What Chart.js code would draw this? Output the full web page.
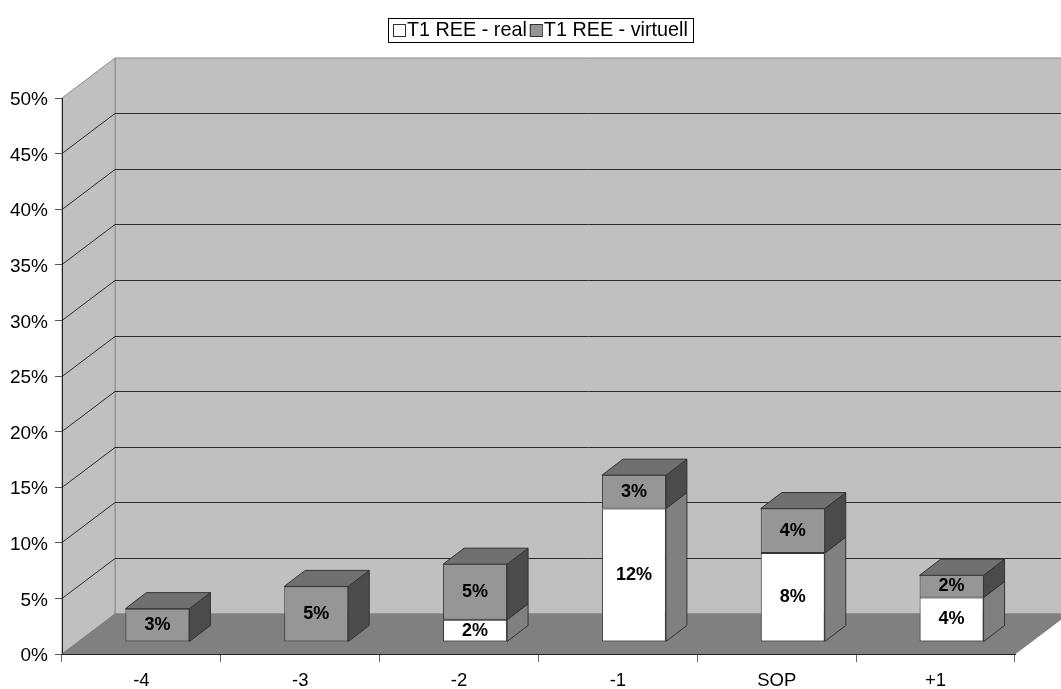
<!DOCTYPE html>
<html>
<head>
<meta charset="utf-8">
<title>T1 REE</title>
<style>
  html, body { margin: 0; padding: 0; background: #fff; }
  canvas { display: block; }
</style>
<script src="https://cdn.jsdelivr.net/npm/chart.js@4/dist/chart.umd.min.js"></script>
</head>
<body>
<canvas id="reeChart" width="1061" height="689"></canvas>
<script>
const categories = ['-4', '-3', '-2', '-1', 'SOP', '+1'];
const realValues = [null, null, 2, 12, 8, 4];
const virtualValues = [3, 5, 5, 3, 4, 2];
const seriesNames = ['T1 REE - real', 'T1 REE - virtuell'];

const FONT = '"Liberation Sans", Arial, sans-serif';
const WALL = '#c0c0c0';
const FLOOR = '#808080';
const EDGE = '#333333';

// depth of the whole plot box, and where the columns sit inside it
const DEPTH_X = 53, DEPTH_Y = 40;
const BAR_SHIFT_X = 16, BAR_SHIFT_Y = 12;
const BAR_DEPTH_X = 21, BAR_DEPTH_Y = 16;

function poly(ctx, pts, fill, stroke) {
  ctx.beginPath();
  pts.forEach((p, i) => (i ? ctx.lineTo(p[0], p[1]) : ctx.moveTo(p[0], p[1])));
  ctx.closePath();
  if (fill) { ctx.fillStyle = fill; ctx.fill(); }
  if (stroke) { ctx.strokeStyle = stroke; ctx.lineWidth = 1; ctx.stroke(); }
}

// back wall, side wall, floor and the gridlines that run across them
const box3d = {
  id: 'box3d',
  beforeDraw(chart) {
    const { ctx, chartArea: a, scales } = chart;
    const dx = DEPTH_X, dy = DEPTH_Y;
    ctx.save();
    poly(ctx, [[a.left + dx, a.top - dy], [a.right + dx, a.top - dy], [a.right + dx, a.bottom - dy], [a.left + dx, a.bottom - dy]], WALL, '#8c8c8c');
    poly(ctx, [[a.left, a.top], [a.left + dx, a.top - dy], [a.left + dx, a.bottom - dy], [a.left, a.bottom]], WALL, '#8c8c8c');
    poly(ctx, [[a.left, a.bottom], [a.left + dx, a.bottom - dy], [a.right + dx, a.bottom - dy], [a.right, a.bottom]], FLOOR, '#808080');
    scales.y.ticks.forEach((t) => {
      if (t.value === 0 || t.value === 50) return;
      const y = Math.floor(scales.y.getPixelForValue(t.value)) + 0.5;
      ctx.beginPath();
      ctx.moveTo(a.left, y);
      ctx.lineTo(a.left + dx, y - dy);
      ctx.lineTo(a.right + dx, y - dy);
      ctx.strokeStyle = '#2a2a2a';
      ctx.lineWidth = 1;
      ctx.stroke();
    });
    ctx.restore();
  }
};

// columns: the library draws the front faces, moved back into the box;
// top and side faces and the value labels are added from the same elements
const columns3d = {
  id: 'columns3d',
  beforeDatasetsDraw(chart) {
    chart.ctx.save();
    chart.ctx.translate(BAR_SHIFT_X, -BAR_SHIFT_Y);
  },
  afterDatasetsDraw(chart) {
    const ctx = chart.ctx;
    ctx.restore();
    const sideColors = ['#808080', '#4b4b4b'];
    const seriesData = [realValues, virtualValues];
    ctx.save();
    chart.data.datasets.forEach((ds, di) => {
      chart.getDatasetMeta(di).data.forEach((bar, i) => {
        if (seriesData[di][i] === null) return;
        const r = bar.x + bar.width / 2 + BAR_SHIFT_X;
        const l = bar.x - bar.width / 2 + BAR_SHIFT_X;
        const t = bar.y - BAR_SHIFT_Y;
        const b = bar.base - BAR_SHIFT_Y;
        poly(ctx, [[r, t], [r + BAR_DEPTH_X, t - BAR_DEPTH_Y], [r + BAR_DEPTH_X, b - BAR_DEPTH_Y], [r, b]], sideColors[di], EDGE);
        // every column ends in the upper series, so only that one shows a lid
        if (di === 1) {
          poly(ctx, [[l, t], [l + BAR_DEPTH_X, t - BAR_DEPTH_Y], [r + BAR_DEPTH_X, t - BAR_DEPTH_Y], [r, t]], '#707070', EDGE);
        }
      });
    });
    // labels go on last so no face covers them
    ctx.fillStyle = '#000';
    ctx.font = 'bold 18px ' + FONT;
    ctx.textAlign = 'center';
    ctx.textBaseline = 'middle';
    chart.data.datasets.forEach((ds, di) => {
      chart.getDatasetMeta(di).data.forEach((bar, i) => {
        const v = seriesData[di][i];
        if (v === null) return;
        const cy = (bar.y + bar.base) / 2 - BAR_SHIFT_Y;
        ctx.fillText(v + '%', bar.x + BAR_SHIFT_X, cy);
      });
    });
    ctx.restore();
  }
};

// boxed legend above the plot
const boxedLegend = {
  id: 'boxedLegend',
  afterDraw(chart) {
    const ctx = chart.ctx;
    const left = 388, top = 18, width = 305, height = 24;
    const swatch = 12;
    ctx.save();
    ctx.fillStyle = '#fff';
    ctx.fillRect(left, top, width, height);
    ctx.strokeStyle = '#000';
    ctx.lineWidth = 1;
    ctx.strokeRect(left + 0.5, top + 0.5, width, height);
    ctx.font = '19.8px ' + FONT;
    ctx.textBaseline = 'middle';
    ctx.textAlign = 'left';
    let x = left + 5;
    chart.data.datasets.forEach((ds) => {
      const sy = top + Math.round((height - swatch) / 2);
      ctx.fillStyle = ds.backgroundColor;
      ctx.fillRect(x, sy, swatch, swatch);
      ctx.strokeStyle = EDGE;
      ctx.strokeRect(x + 0.5, sy + 0.5, swatch, swatch);
      x += swatch + 2;
      ctx.fillStyle = '#000';
      ctx.fillText(ds.label, x, top + height / 2 + 1);
      x += ctx.measureText(ds.label).width + 3;
    });
    ctx.restore();
  }
};

new Chart(document.getElementById('reeChart'), {
  type: 'bar',
  data: {
    labels: categories,
    datasets: [
      { label: seriesNames[0], data: realValues, backgroundColor: '#ffffff', borderColor: EDGE, borderWidth: 1, borderSkipped: false },
      { label: seriesNames[1], data: virtualValues, backgroundColor: '#969696', borderColor: EDGE, borderWidth: 1, borderSkipped: false }
    ]
  },
  options: {
    responsive: false,
    animation: false,
    events: [],
    layout: { autoPadding: false, padding: { top: 98, left: 0, right: 46, bottom: 0 } },
    datasets: { bar: { categoryPercentage: 1, barPercentage: 0.403 } },
    plugins: { legend: { display: false }, tooltip: { enabled: false } },
    scales: {
      x: {
        stacked: true,
        afterFit(scale) { scale.height = 35; },
        grid: { drawOnChartArea: false, tickColor: '#666666', tickLength: 8, offset: true },
        border: { color: '#222222' },
        ticks: { color: '#000', padding: 8, maxRotation: 0, font: { family: FONT, size: 18.5 } }
      },
      y: {
        stacked: true,
        min: 0,
        max: 50,
        afterFit(scale) { scale.width = 62; },
        grid: { drawOnChartArea: false, tickColor: '#555555', tickLength: 7 },
        border: { color: '#222222' },
        ticks: { stepSize: 5, color: '#000', padding: 7, labelOffset: 2, font: { family: FONT, size: 19 }, callback: (v) => v + '%' }
      }
    }
  },
  plugins: [box3d, columns3d, boxedLegend]
});
</script>
</body>
</html>
